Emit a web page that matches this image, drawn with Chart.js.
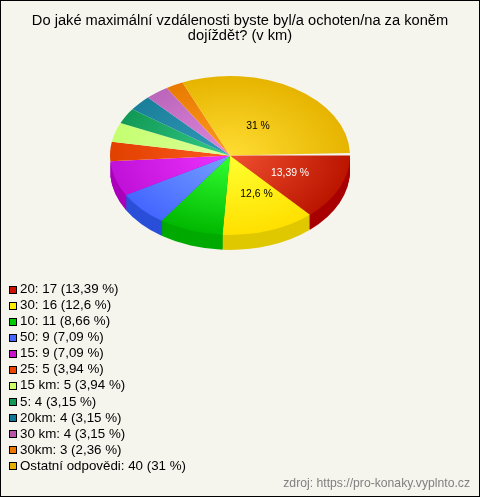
<!DOCTYPE html>
<html>
<head>
<meta charset="utf-8">
<style>
  html, body { margin: 0; padding: 0; background: #f5f5ee; }
  canvas { display: block; }
</style>
<script src="https://cdn.jsdelivr.net/npm/chart.js@4"></script>
</head>
<body>
<canvas id="pie" width="480" height="497"></canvas>
<script>
const titleLines = ['Do jaké maximální vzdálenosti byste byl/a ochoten/na za koněm', 'dojíždět? (v km)'];
const categories = ['20', '30', '10', '50', '15', '25', '15 km', '5', '20km', '30 km', '30km', 'Ostatní odpovědi'];
const counts = [17, 16, 11, 9, 9, 5, 5, 4, 4, 4, 3, 40];
const percents = [13.39, 12.6, 8.66, 7.09, 7.09, 3.94, 3.94, 3.15, 3.15, 3.15, 2.36, 31];
const sliceLabels = ['13,39 %', '12,6 %', '', '', '', '', '', '', '', '', '', '31 %'];
const labelColors = ['#ffffff', '#000000', '', '', '', '', '', '', '', '', '', '#000000'];
const centerColors = ['#f05030', '#ffff30', '#33ff33', '#77a0ff', '#ee33ff', '#ff5a20', '#ddff99', '#33cc88', '#3399bb', '#dd88dd', '#ff9922', '#ffdd33'];
const rimColors = ['#bb1500', '#ffe000', '#00b800', '#4466ff', '#c011d8', '#e04000', '#c4ff70', '#119955', '#1a7f99', '#bb66bb', '#e87a00', '#e6b400'];
const sideColors = ['#a80000', '#e0c800', '#00aa00', '#2a4fd8', '#aa00bb', '#c03000', '#a0d050', '#0c7a44', '#146a80', '#994d99', '#c06000', '#c09000'];
const legendColors = ['#cc1100', '#ffee00', '#00cc00', '#4466ff', '#cc11cc', '#ee4400', '#ccff66', '#119955', '#117799', '#bb55aa', '#ee7700', '#e6b000'];
const sourceText = 'zdroj: https://pro-konaky.vyplnto.cz';

const PIE_X = 230, PIE_Y = 155.5, RADIUS = 120, SQUASH = 0.662, DEPTH = 15;
const BG = '#f5f5ee';

const czPct = p => String(p).replace('.', ',') + ' %';
const legendLabels = categories.map((c, i) => `${c}: ${counts[i]} (${czPct(percents[i])})`);
// percents only add up to 99.52, that is the thin gap next to the red slice
const sweep = percents.reduce((a, b) => a + b, 0) / 100 * 360;

// pie squashed into an ellipse, so the gradient gets squashed with it
const applyTilt = (ctx, arc, dy) => {
  ctx.translate(PIE_X, PIE_Y + dy);
  ctx.scale(1, SQUASH);
  ctx.translate(-arc.x, -arc.y);
};

const tiltPlugin = {
  id: 'tilt',
  beforeDraw(chart) {
    const { ctx, width, height } = chart;
    ctx.save();
    ctx.fillStyle = BG;
    ctx.fillRect(0, 0, width, height);
    ctx.restore();
  },
  beforeDatasetDraw(chart) {
    const ctx = chart.ctx;
    const arcs = chart.getDatasetMeta(0).data;
    // side wall first, only slices facing the viewer
    for (let d = DEPTH; d >= 1; d--) {
      ctx.save();
      applyTilt(ctx, arcs[0], d);
      arcs.forEach((arc, i) => {
        if (arc.startAngle >= 3) return;
        const saved = arc.options;
        arc.options = Object.create(saved, { backgroundColor: { value: sideColors[i] } });
        arc.draw(ctx);
        arc.options = saved;
      });
      ctx.restore();
    }
    ctx.save();
    applyTilt(ctx, arcs[0], 0);
  },
  afterDatasetDraw(chart) {
    chart.ctx.restore();
  },
  afterDraw(chart) {
    const { ctx, width, height } = chart;
    ctx.save();

    // slice label spots, offset from the pie centre
    const spots = { 0: [60, 17.5], 1: [26.5, 38.5], 11: [28, -29.5] };
    ctx.font = '10.4px "Liberation Sans"';
    ctx.textAlign = 'center';
    ctx.textBaseline = 'middle';
    sliceLabels.forEach((txt, i) => {
      if (!txt) return;
      ctx.fillStyle = labelColors[i];
      ctx.fillText(txt, PIE_X + spots[i][0], PIE_Y + spots[i][1]);
    });

    ctx.font = '13.33px "Liberation Sans"';
    ctx.textAlign = 'left';
    legendLabels.forEach((txt, i) => {
      const y = 289.5 + i * 16.05;
      ctx.fillStyle = legendColors[i];
      ctx.fillRect(9, Math.round(y) - 4, 8, 8);
      ctx.strokeStyle = '#000';
      ctx.lineWidth = 1;
      ctx.strokeRect(9.5, Math.round(y) - 3.5, 7, 7);
      ctx.fillStyle = '#000';
      ctx.fillText(txt, 20, y);
    });

    ctx.font = '12.2px "Liberation Sans"';
    ctx.textAlign = 'right';
    ctx.fillStyle = '#808080';
    ctx.fillText(sourceText, 470, 484);

    ctx.strokeStyle = '#000';
    ctx.strokeRect(0.5, 0.5, width - 1, height - 1);
    ctx.restore();
  }
};

new Chart(document.getElementById('pie'), {
  type: 'pie',
  data: {
    labels: categories,
    datasets: [{
      data: percents,
      borderWidth: 0,
      clip: false,
      backgroundColor(c) {
        const area = c.chart.chartArea;
        if (!area) return rimColors[c.dataIndex];
        const cx = (area.left + area.right) / 2, cy = (area.top + area.bottom) / 2;
        const g = c.chart.ctx.createRadialGradient(cx, cy, 0, cx, cy, RADIUS);
        g.addColorStop(0, centerColors[c.dataIndex]);
        g.addColorStop(1, rimColors[c.dataIndex]);
        return g;
      }
    }]
  },
  options: {
    responsive: false,
    animation: false,
    events: [],
    radius: RADIUS,
    rotation: 90,
    circumference: sweep,
    layout: { padding: { bottom: 200 } },
    plugins: {
      legend: { display: false },
      tooltip: { enabled: false },
      title: {
        display: true,
        text: titleLines,
        color: '#000',
        font: { family: '"Liberation Sans"', size: 14.67, weight: 'normal', lineHeight: 1.03 },
        padding: { top: 13, bottom: 10 }
      }
    }
  },
  plugins: [tiltPlugin]
});
</script>
</body>
</html>
